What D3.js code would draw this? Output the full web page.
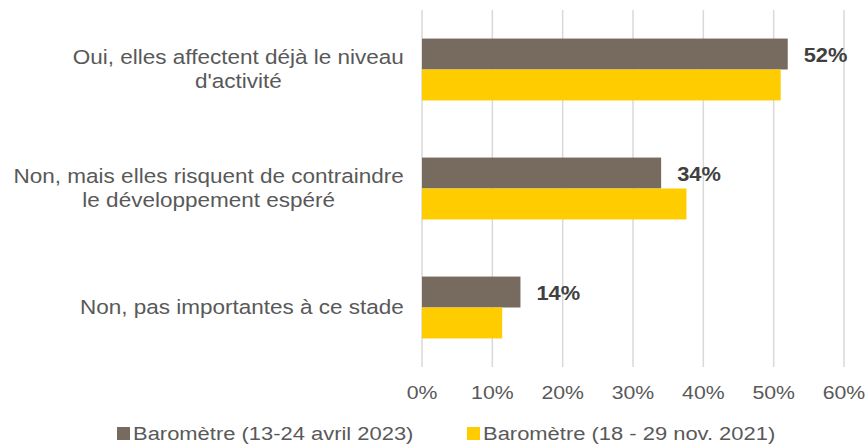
<!DOCTYPE html>
<html>
<head>
<meta charset="utf-8">
<script src="https://cdn.jsdelivr.net/npm/d3@7"></script>
<style>
  body { margin: 0; background: #fff; }
  text { font-family: "Liberation Sans", Arial, sans-serif; }
</style>
</head>
<body>
<div id="chart"></div>
<script>
// data
const categories = [
    ["Oui, elles affectent déjà le niveau", "d'activité"],
    ["Non, mais elles risquent de contraindre", "le développement espéré"],
    ["Non, pas importantes à ce stade"]
];
const series = ["Baromètre (13-24 avril 2023)", "Baromètre (18 - 29 nov. 2021)"];
const values2023 = [52, 34, 14];
const values2021 = [51, 37.6, 11.4];
const ticks = [0, 10, 20, 30, 40, 50, 60];
const colors = ["#776B5F", "#FFCC00"];

const W = 868, H = 444;
const plot = { left: 422, right: 844, top: 10, bottom: 367 };
const sx = 1.12;      // the source text is a bit wider than Arial
const sxLabel = 1.155;

const svg = d3.select("#chart").append("svg")
    .attr("width", W)
    .attr("height", H);

const x = d3.scaleLinear().domain([0, 60]).range([plot.left, plot.right]);
const y = d3.scaleBand()
    .domain(d3.range(categories.length))
    .range([plot.top, plot.bottom])
    .paddingInner(0.48)
    .paddingOuter(0.24);
const ySub = d3.scaleBand().domain([0, 1]).range([0, y.bandwidth()]);

// place a text at (px,py), stretched horizontally
const at = (px, py, s = sx) => `translate(${px},${py}) scale(${s},1)`;

// gridlines
svg.append("g")
    .selectAll("line")
    .data(ticks)
    .join("line")
    .attr("x1", d => x(d)).attr("x2", d => x(d))
    .attr("y1", plot.top).attr("y2", plot.bottom)
    .attr("stroke", "#D9D9D9")
    .attr("stroke-width", 1.5);

// x tick labels
svg.append("g")
    .selectAll("text")
    .data(ticks)
    .join("text")
    .attr("transform", d => at(x(d), 392))
    .attr("dy", "0.35em")
    .attr("text-anchor", "middle")
    .attr("font-size", 19)
    .attr("fill", "#595959")
    .text(d => d + "%");

// bars
const rows = categories.map((c, i) => ({ i, vals: [values2023[i], values2021[i]] }));
const grp = svg.append("g").selectAll("g")
    .data(rows)
    .join("g")
    .attr("transform", d => `translate(0,${y(d.i)})`);

grp.selectAll("rect")
    .data(d => d.vals.map((v, s) => ({ v, s })))
    .join("rect")
    .attr("x", x(0))
    .attr("y", d => ySub(d.s))
    .attr("width", d => x(d.v) - x(0))
    .attr("height", ySub.bandwidth())
    .attr("fill", d => colors[d.s]);

// value labels (2023 only)
grp.append("text")
    .attr("transform", d => at(x(d.vals[0]) + 16, ySub(0) + ySub.bandwidth() / 2 + 1))
    .attr("dy", "0.35em")
    .attr("font-size", 19.5)
    .attr("font-weight", "bold")
    .attr("fill", "#404040")
    .text(d => d.vals[0] + "%");

// category labels (wrapped, centred lines, block right-aligned)
const labelRight = 404;
const lineH = 24;
categories.forEach((lines, i) => {
    const cy = y(i) + y.bandwidth() / 2;
    const t = svg.append("g").selectAll("text")
        .data(lines)
        .join("text")
        .attr("dy", "0.35em")
        .attr("text-anchor", "middle")
        .attr("font-size", 19.5)
        .attr("fill", "#595959")
        .text(d => d);
    const maxW = d3.max(t.nodes(), n => n.getComputedTextLength()) * sxLabel;
    t.attr("transform", (d, k) => at(labelRight - maxW / 2, cy + (k - (lines.length - 1) / 2) * lineH, sxLabel));
});

// legend
const legendX = [117, 467];
const leg = svg.append("g").selectAll("g")
    .data(series)
    .join("g")
    .attr("transform", (d, i) => `translate(${legendX[i]},433)`);
leg.append("rect")
    .attr("x", 0).attr("y", -6)
    .attr("width", 13).attr("height", 13)
    .attr("fill", (d, i) => colors[i]);
leg.append("text")
    .attr("transform", at(16, 0, sxLabel))
    .attr("dy", "0.35em")
    .attr("font-size", 19)
    .attr("fill", "#595959")
    .text(d => d);
</script>
</body>
</html>
